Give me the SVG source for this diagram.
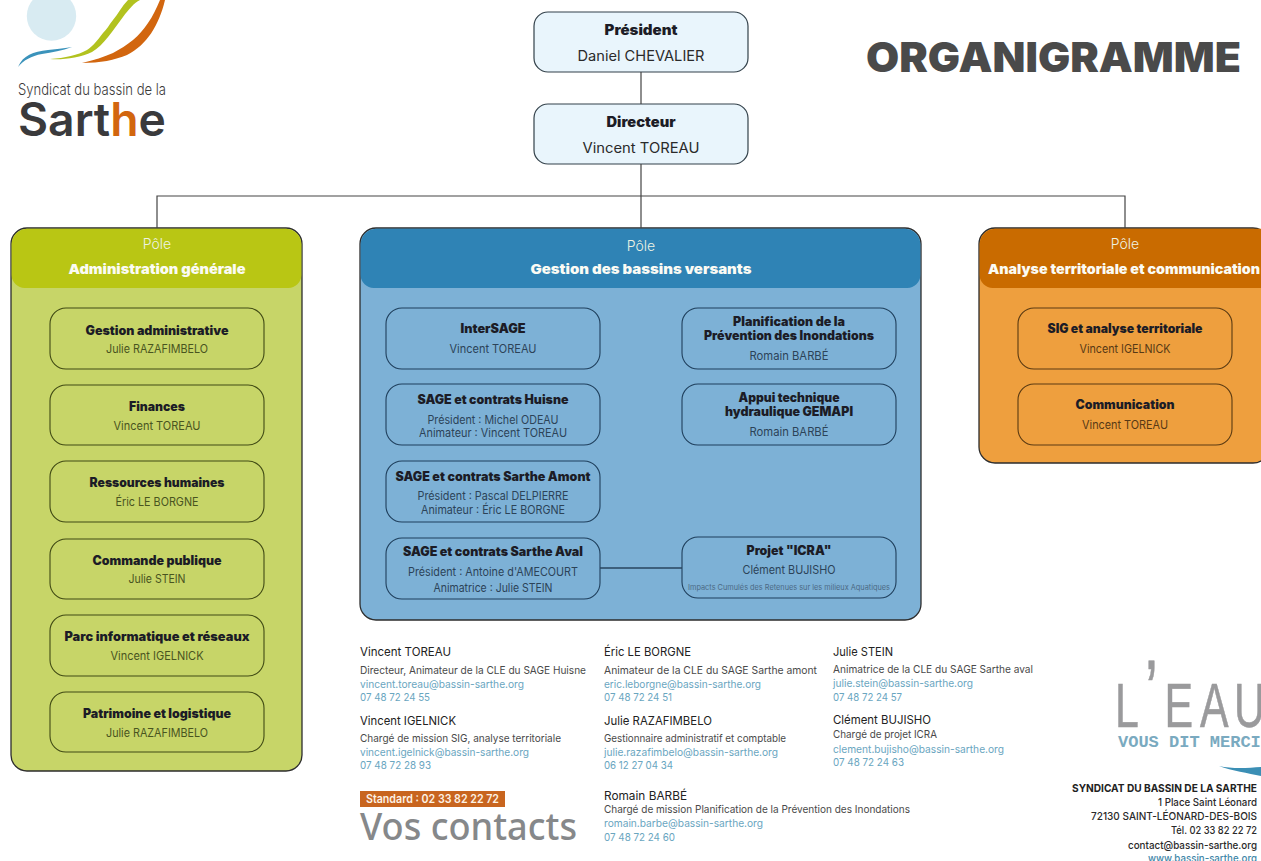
<svg xmlns="http://www.w3.org/2000/svg" width="1261" height="861" viewBox="0 0 1261 861">
<style>
text{font-family:"Inter","Noto Sans","Liberation Sans",sans-serif;}
.m{text-anchor:middle}
.e{text-anchor:end}
.t{font-size:12.500px;font-weight:900;fill:#1c1c26}
.b{font-size:11.500px;font-weight:400}
.bl{fill:#2c4358}.gr{fill:#49541f}.or{fill:#573915}
.p{font-size:14px;font-weight:300;fill:#eef3e4}
.h{font-size:13.500px;font-weight:900;fill:#fbfbf4}
.top{fill:#e9f5fc;stroke:#33414a;stroke-width:1.2}
.ng{fill:none;stroke:#404a14;stroke-width:1.1}
.nb{fill:none;stroke:#1f3f5c;stroke-width:1.1}
.no{fill:none;stroke:#5a3a12;stroke-width:1.1}
.pole{stroke:#2d2d2d;stroke-width:1.3}
.cn{fill:none;stroke:#444;stroke-width:1.2}
.n{font-size:12px;fill:#222}
.d{font-size:10.800px;fill:#4a4a4a}
.c{font-size:10.800px;fill:#6aa6bf}
.a{font-size:11px;font-weight:500;fill:#2a2a2a}
.mono{font-family:"Liberation Mono",monospace}
</style>
<rect width="1261" height="861" fill="#fff"/>

<g id="logo">
<circle cx="51.5" cy="16" r="24.7" fill="#d8ebf2"/>
<path d="M18 67C23 55 33 52 48 50C58 49 66 48 72 47C62 51 52 52 42 54C31 56 24 60 18 67Z" fill="#3b93bb"/>
<path d="M50 59C62 60 80 58 92 52C104 45 113 30 123 17C129 9 134 3 140 0L128 0C122 6 118 14 113 20C109 25 107 29 103 33C97 41 93 46 87 50C78 55 65 58 50 59Z" fill="#b2c21f"/>
<path d="M82 63C100 63 115 60 127 55C147 45 159 25 165 0L160 0C156 9 153 16 148 23C143 30 139 35 133 40C127 45 120 49 113 53C104 57 94 60 82 63Z" fill="#d2660f"/>
<text x="18" y="95" font-size="16" font-weight="300" fill="#3a3a3a" textLength="148" lengthAdjust="spacingAndGlyphs">Syndicat du bassin de la</text>
<text x="18" y="136" font-size="46" font-weight="600" fill="#3a3a3c" textLength="148" lengthAdjust="spacingAndGlyphs">Sart<tspan fill="#d2660f">h</tspan>e</text>
</g>

<text id="title" x="866" y="72" font-size="41" font-weight="900" fill="#4a4a4a" textLength="375" lengthAdjust="spacingAndGlyphs">ORGANIGRAMME</text>

<g id="president">
<rect class="top" x="534" y="12" width="214" height="60" rx="14"/>
<text class="m" x="641" y="35" font-size="14" font-weight="900" fill="#1c1c26" textLength="73" lengthAdjust="spacingAndGlyphs">Président</text>
<text class="m" x="641" y="61" font-size="14" fill="#2a2a2a" textLength="127" lengthAdjust="spacingAndGlyphs">Daniel CHEVALIER</text>
</g>
<g id="directeur">
<rect class="top" x="534" y="104" width="214" height="60" rx="14"/>
<text class="m" x="641" y="127" font-size="14" font-weight="900" fill="#1c1c26" textLength="69" lengthAdjust="spacingAndGlyphs">Directeur</text>
<text class="m" x="641" y="153" font-size="14" fill="#2a2a2a" textLength="117" lengthAdjust="spacingAndGlyphs">Vincent TOREAU</text>
</g>

<g id="pole-admin">
<rect x="11" y="228" width="291" height="543" rx="16" fill="#c7d568" class="pole"/>
<path d="M11.700 244A16 16 0 0 1 27 228.700H286A16 16 0 0 1 301.300 244V275A13 13 0 0 1 288 288H25A13 13 0 0 1 11.700 275Z" fill="#b9c614"/>
<text class="m p" x="157" y="249">Pôle</text>
<text class="m h" x="157" y="274" textLength="177" lengthAdjust="spacingAndGlyphs">Administration générale</text>
</g>
<g id="n-gestion-admin"><rect class="ng" x="50" y="308" width="214" height="61" rx="16"/><text class="m t" x="157" y="335" textLength="143" lengthAdjust="spacingAndGlyphs">Gestion administrative</text><text class="m b gr" x="157" y="353" textLength="102" lengthAdjust="spacingAndGlyphs">Julie RAZAFIMBELO</text></g>
<g id="n-finances"><rect class="ng" x="50" y="385" width="214" height="60" rx="16"/><text class="m t" x="157" y="411" textLength="56" lengthAdjust="spacingAndGlyphs">Finances</text><text class="m b gr" x="157" y="430" textLength="87" lengthAdjust="spacingAndGlyphs">Vincent TOREAU</text></g>
<g id="n-rh"><rect class="ng" x="50" y="461" width="214" height="61" rx="16"/><text class="m t" x="157" y="487" textLength="135" lengthAdjust="spacingAndGlyphs">Ressources humaines</text><text class="m b gr" x="157" y="506" textLength="83" lengthAdjust="spacingAndGlyphs">Éric LE BORGNE</text></g>
<g id="n-commande"><rect class="ng" x="50" y="539" width="214" height="60" rx="16"/><text class="m t" x="157" y="565" textLength="129" lengthAdjust="spacingAndGlyphs">Commande publique</text><text class="m b gr" x="157" y="583" textLength="57" lengthAdjust="spacingAndGlyphs">Julie STEIN</text></g>
<g id="n-parc"><rect class="ng" x="50" y="615" width="214" height="61" rx="16"/><text class="m t" x="157" y="641" textLength="185" lengthAdjust="spacingAndGlyphs">Parc informatique et réseaux</text><text class="m b gr" x="157" y="660" textLength="93" lengthAdjust="spacingAndGlyphs">Vincent IGELNICK</text></g>
<g id="n-patrimoine"><rect class="ng" x="50" y="692" width="214" height="60" rx="16"/><text class="m t" x="157" y="718" textLength="148" lengthAdjust="spacingAndGlyphs">Patrimoine et logistique</text><text class="m b gr" x="157" y="737" textLength="102" lengthAdjust="spacingAndGlyphs">Julie RAZAFIMBELO</text></g>

<g id="pole-bassins">
<rect x="360" y="228" width="561" height="392" rx="16" fill="#7db1d6" class="pole"/>
<path d="M360.700 244A16 16 0 0 1 376 228.700H905A16 16 0 0 1 920.300 244V275A13 13 0 0 1 907 288H374A13 13 0 0 1 360.700 275Z" fill="#2f83b5"/>
<text class="m p" x="641" y="251">Pôle</text>
<text class="m h" x="641" y="274" textLength="221" lengthAdjust="spacingAndGlyphs">Gestion des bassins versants</text>
</g>
<g id="n-intersage"><rect class="nb" x="386" y="308" width="214" height="61" rx="16"/><text class="m t" x="493" y="333" textLength="65" lengthAdjust="spacingAndGlyphs">InterSAGE</text><text class="m b bl" x="493" y="353" textLength="87" lengthAdjust="spacingAndGlyphs">Vincent TOREAU</text></g>
<g id="n-huisne"><rect class="nb" x="386" y="384" width="214" height="61" rx="16"/><text class="m t" x="493" y="404" textLength="151" lengthAdjust="spacingAndGlyphs">SAGE et contrats Huisne</text><text class="m b bl" x="493" y="424" textLength="131" lengthAdjust="spacingAndGlyphs">Président : Michel ODEAU</text><text class="m b bl" x="493" y="437" textLength="148" lengthAdjust="spacingAndGlyphs">Animateur : Vincent TOREAU</text></g>
<g id="n-amont"><rect class="nb" x="386" y="461" width="214" height="61" rx="16"/><text class="m t" x="493" y="481" textLength="195" lengthAdjust="spacingAndGlyphs">SAGE et contrats Sarthe Amont</text><text class="m b bl" x="493" y="500" textLength="151" lengthAdjust="spacingAndGlyphs">Président : Pascal DELPIERRE</text><text class="m b bl" x="493" y="514" textLength="144" lengthAdjust="spacingAndGlyphs">Animateur : Éric LE BORGNE</text></g>
<g id="n-aval"><rect class="nb" x="386" y="538" width="214" height="61" rx="16"/><text class="m t" x="493" y="556" textLength="180" lengthAdjust="spacingAndGlyphs">SAGE et contrats Sarthe Aval</text><text class="m b bl" x="493" y="576" textLength="170" lengthAdjust="spacingAndGlyphs">Président : Antoine d'AMECOURT</text><text class="m b bl" x="493" y="592" textLength="119" lengthAdjust="spacingAndGlyphs">Animatrice : Julie STEIN</text></g>
<g id="n-planif"><rect class="nb" x="682" y="308" width="214" height="61" rx="16"/><text class="m t" x="789" y="326" textLength="112" lengthAdjust="spacingAndGlyphs">Planification de la</text><text class="m t" x="789" y="340" textLength="170" lengthAdjust="spacingAndGlyphs">Prévention des Inondations</text><text class="m b bl" x="789" y="360" textLength="79" lengthAdjust="spacingAndGlyphs">Romain BARBÉ</text></g>
<g id="n-appui"><rect class="nb" x="682" y="384" width="214" height="61" rx="16"/><text class="m t" x="789" y="402" textLength="101" lengthAdjust="spacingAndGlyphs">Appui technique</text><text class="m t" x="789" y="416" textLength="128" lengthAdjust="spacingAndGlyphs">hydraulique GEMAPI</text><text class="m b bl" x="789" y="436" textLength="79" lengthAdjust="spacingAndGlyphs">Romain BARBÉ</text></g>
<g id="n-icra"><rect class="nb" x="682" y="537" width="214" height="61" rx="16"/><text class="m t" x="789" y="555" textLength="85" lengthAdjust="spacingAndGlyphs">Projet "ICRA"</text><text class="m b bl" x="789" y="574" textLength="93" lengthAdjust="spacingAndGlyphs">Clément BUJISHO</text><text class="m" x="789" y="590" font-size="7.500" fill="#4c6a85" textLength="202" lengthAdjust="spacingAndGlyphs">Impacts Cumulés des Retenues sur les milieux Aquatiques</text></g>

<g id="pole-analyse">
<rect x="979" y="228" width="290" height="235" rx="16" fill="#ee9f3e" class="pole"/>
<path d="M979.700 244A16 16 0 0 1 995 228.700H1270V288H993A13 13 0 0 1 979.700 275Z" fill="#c96b00"/>
<text class="m p" x="1125" y="249">Pôle</text>
<text class="m h" x="1124" y="274" textLength="272" lengthAdjust="spacingAndGlyphs">Analyse territoriale et communication</text>
</g>
<g id="n-sig"><rect class="no" x="1018" y="308" width="214" height="61" rx="16"/><text class="m t" x="1125" y="333" textLength="155" lengthAdjust="spacingAndGlyphs">SIG et analyse territoriale</text><text class="m b or" x="1125" y="353" textLength="91" lengthAdjust="spacingAndGlyphs">Vincent IGELNICK</text></g>
<g id="n-comm"><rect class="no" x="1018" y="384" width="214" height="61" rx="16"/><text class="m t" x="1125" y="409" textLength="99" lengthAdjust="spacingAndGlyphs">Communication</text><text class="m b or" x="1125" y="429" textLength="86" lengthAdjust="spacingAndGlyphs">Vincent TOREAU</text></g>

<g id="connectors">
<path class="cn" d="M641 72V104M641 164V228M157 228V196H1125V228"/>
<path d="M600 568H682" fill="none" stroke="#28465f" stroke-width="1.500"/>
</g>

<g id="contacts">
<text class="n" x="360" y="656" textLength="91" lengthAdjust="spacingAndGlyphs">Vincent TOREAU</text>
<text class="d" x="360" y="674" textLength="226" lengthAdjust="spacingAndGlyphs">Directeur, Animateur  de la CLE du SAGE Huisne</text>
<text class="c" x="360" y="688" textLength="164" lengthAdjust="spacingAndGlyphs">vincent.toreau@bassin-sarthe.org</text>
<text class="c" x="360" y="701" textLength="70" lengthAdjust="spacingAndGlyphs">07 48 72 24 55</text>
<text class="n" x="360" y="725" textLength="96" lengthAdjust="spacingAndGlyphs">Vincent IGELNICK</text>
<text class="d" x="360" y="742" textLength="201" lengthAdjust="spacingAndGlyphs">Chargé de mission SIG, analyse territoriale</text>
<text class="c" x="360" y="756" textLength="169" lengthAdjust="spacingAndGlyphs">vincent.igelnick@bassin-sarthe.org</text>
<text class="c" x="360" y="769" textLength="71" lengthAdjust="spacingAndGlyphs">07 48 72 28 93</text>
<text class="n" x="604" y="656" textLength="87" lengthAdjust="spacingAndGlyphs">Éric LE BORGNE</text>
<text class="d" x="604" y="674" textLength="213" lengthAdjust="spacingAndGlyphs">Animateur de la CLE du SAGE Sarthe amont</text>
<text class="c" x="604" y="688" textLength="157" lengthAdjust="spacingAndGlyphs">eric.leborgne@bassin-sarthe.org</text>
<text class="c" x="604" y="701" textLength="68" lengthAdjust="spacingAndGlyphs">07 48 72 24 51</text>
<text class="n" x="604" y="725" textLength="108" lengthAdjust="spacingAndGlyphs">Julie RAZAFIMBELO</text>
<text class="d" x="604" y="742" textLength="182" lengthAdjust="spacingAndGlyphs">Gestionnaire administratif et comptable</text>
<text class="c" x="604" y="756" textLength="174" lengthAdjust="spacingAndGlyphs">julie.razafimbelo@bassin-sarthe.org</text>
<text class="c" x="604" y="769" textLength="69" lengthAdjust="spacingAndGlyphs">06 12 27 04 34</text>
<text class="n" x="604" y="800" textLength="83" lengthAdjust="spacingAndGlyphs">Romain BARBÉ</text>
<text class="d" x="604" y="813" textLength="306" lengthAdjust="spacingAndGlyphs">Chargé de mission Planification de la Prévention des Inondations</text>
<text class="c" x="604" y="827" textLength="159" lengthAdjust="spacingAndGlyphs">romain.barbe@bassin-sarthe.org</text>
<text class="c" x="604" y="841" textLength="71" lengthAdjust="spacingAndGlyphs">07 48 72 24 60</text>
<text class="n" x="833" y="656" textLength="60" lengthAdjust="spacingAndGlyphs">Julie STEIN</text>
<text class="d" x="833" y="673" textLength="200" lengthAdjust="spacingAndGlyphs">Animatrice de la CLE du SAGE Sarthe aval</text>
<text class="c" x="833" y="687" textLength="140" lengthAdjust="spacingAndGlyphs">julie.stein@bassin-sarthe.org</text>
<text class="c" x="833" y="701" textLength="69" lengthAdjust="spacingAndGlyphs">07 48 72 24 57</text>
<text class="n" x="833" y="724" textLength="98" lengthAdjust="spacingAndGlyphs">Clément BUJISHO</text>
<text class="d" x="833" y="738" textLength="104" lengthAdjust="spacingAndGlyphs">Chargé de projet ICRA</text>
<text class="c" x="833" y="753" textLength="171" lengthAdjust="spacingAndGlyphs">clement.bujisho@bassin-sarthe.org</text>
<text class="c" x="833" y="766" textLength="71" lengthAdjust="spacingAndGlyphs">07 48 72 24 63</text>
<rect x="360" y="791" width="145" height="16" fill="#c8651f"/>
<text x="366" y="803" font-size="12" font-weight="600" fill="#fdf3e6" textLength="133" lengthAdjust="spacingAndGlyphs">Standard : 02 33 82 22 72</text>
<text x="360" y="840" font-size="38" font-weight="500" fill="#86888a" textLength="217" lengthAdjust="spacingAndGlyphs" style="font-family:'Noto Sans','Inter',sans-serif">Vos contacts</text>
</g>

<g id="merci">
<g transform="scale(0.68 1)"><text y="727" font-size="63" fill="#9a9a9c" stroke="#9a9a9c" stroke-width="0.600" style="font-family:'Liberation Sans',sans-serif"><tspan x="1639.700">L</tspan><tspan x="1683.800" dy="-7" font-size="85">’</tspan><tspan x="1712.500" dy="7">E</tspan><tspan x="1764.700">A</tspan><tspan x="1814.700">U</tspan></text></g>
<text class="mono" x="1118" y="747" font-size="17" font-weight="700" fill="#7aaac0">VOUS DIT MERCI</text>
<path d="M1219 766C1232 769 1248 768 1261 767V776C1248 773 1232 771 1219 766Z" fill="#3b8fb5"/>
</g>

<g id="adresse">
<text class="e a" x="1257" y="792" style="font-weight:700;fill:#222" textLength="185" lengthAdjust="spacingAndGlyphs">SYNDICAT DU BASSIN DE LA SARTHE</text>
<text class="e a" x="1257" y="806" textLength="99" lengthAdjust="spacingAndGlyphs">1 Place Saint Léonard</text>
<text class="e a" x="1257" y="820" textLength="166" lengthAdjust="spacingAndGlyphs">72130 SAINT-LÉONARD-DES-BOIS</text>
<text class="e a" x="1257" y="834" textLength="86" lengthAdjust="spacingAndGlyphs">Tél. 02 33 82 22 72</text>
<text class="e a" x="1257" y="849" textLength="129" lengthAdjust="spacingAndGlyphs">contact@bassin-sarthe.org</text>
<text class="e a" x="1257" y="862" style="fill:#3f87a8" textLength="109" lengthAdjust="spacingAndGlyphs">www.bassin-sarthe.org</text>
</g>
</svg>
